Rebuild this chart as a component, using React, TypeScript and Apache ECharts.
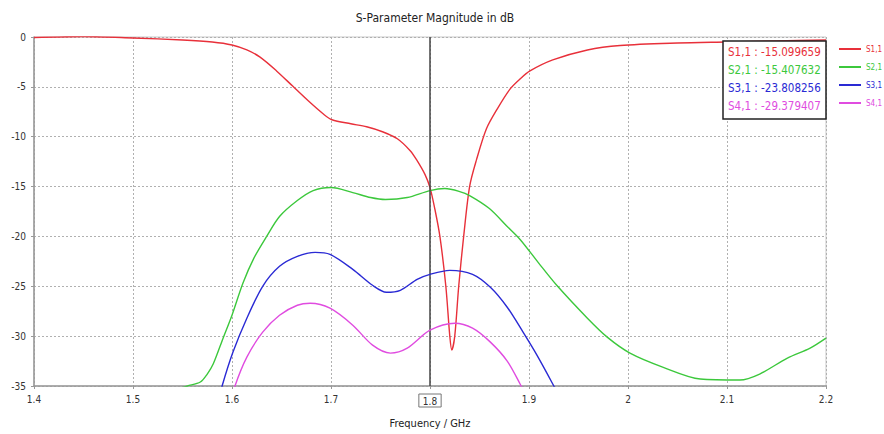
import React, { useEffect, useRef } from "react";
import * as echarts from "echarts";

const TITLE = "S-Parameter Magnitude in dB";
const X_NAME = "Frequency / GHz";
const SERIES_NAMES = ["S1,1", "S2,1", "S3,1", "S4,1"];
const SERIES_COLORS = ["#e8303a", "#3cc83c", "#2a2ad4", "#e04ce0"];
const MARKER_FREQ = 1.8;
const MARKER_VALUES = ["-15.099659", "-15.407632", "-23.808256", "-29.379407"];

const s11Freq = [1.4, 1.45, 1.5, 1.55, 1.58, 1.6, 1.615, 1.628, 1.645, 1.661, 1.677, 1.692, 1.701, 1.72, 1.736, 1.752, 1.767, 1.78, 1.787, 1.795, 1.8, 1.805, 1.81, 1.816, 1.82, 1.822, 1.825, 1.829, 1.834, 1.84, 1.847, 1.857, 1.868, 1.881, 1.891, 1.901, 1.924, 1.959, 1.992, 2.05, 2.1, 2.15, 2.2];
const s11Val = [-0.05, 0.05, -0.1, -0.3, -0.5, -0.8, -1.3, -2.0, -3.4, -4.9, -6.4, -7.7, -8.3, -8.7, -9.0, -9.5, -10.2, -11.4, -12.4, -13.8, -15.1, -17.3, -20, -25, -30, -31.4, -30, -25, -20, -15, -12.3, -9.2, -7.2, -5.2, -4.2, -3.4, -2.3, -1.3, -0.85, -0.6, -0.5, -0.4, -0.3];

const s21Freq = [1.545, 1.555, 1.568, 1.575, 1.581, 1.591, 1.6, 1.611, 1.622, 1.635, 1.648, 1.666, 1.682, 1.7, 1.722, 1.74, 1.755, 1.777, 1.8, 1.815, 1.83, 1.84, 1.86, 1.878, 1.891, 1.91, 1.928, 1.959, 1.979, 2.002, 2.035, 2.073, 2.113, 2.133, 2.161, 2.184, 2.2];
const s21Val = [-35.3, -35, -34.6, -33.8, -32.8, -30.2, -27.9, -24.7, -22.2, -20, -18, -16.4, -15.4, -15.1, -15.6, -16.1, -16.3, -16.1, -15.4, -15.2, -15.5, -15.9, -17.2, -19, -20.3, -22.7, -24.9, -28.2, -30.1, -31.7, -33.1, -34.3, -34.4, -33.8, -32.2, -31.2, -30.2];

const s31Freq = [1.585, 1.59, 1.601, 1.615, 1.631, 1.648, 1.666, 1.684, 1.699, 1.722, 1.742, 1.756, 1.77, 1.787, 1.8, 1.82, 1.843, 1.861, 1.878, 1.894, 1.908, 1.924, 1.93];
const s31Val = [-37, -35, -31.6, -28.2, -25, -23, -22, -21.6, -21.8, -23.3, -24.9, -25.6, -25.4, -24.3, -23.8, -23.4, -23.8, -25.1, -27.1, -29.6, -31.9, -34.8, -36];

const s41Freq = [1.598, 1.603, 1.615, 1.631, 1.648, 1.666, 1.679, 1.699, 1.722, 1.742, 1.76, 1.777, 1.8, 1.825, 1.843, 1.861, 1.878, 1.891, 1.897];
const s41Val = [-37, -35, -32.1, -29.6, -27.9, -26.9, -26.7, -27.2, -28.9, -30.9, -31.7, -31.2, -29.4, -28.7, -29.2, -30.6, -32.5, -34.8, -36];

const FREQS = [s11Freq, s21Freq, s31Freq, s41Freq];
const VALS = [s11Val, s21Val, s31Val, s41Val];

const FONT = "Tahoma, 'DejaVu Sans Condensed', 'Liberation Sans', sans-serif";

export default function App() {
  const ref = useRef<HTMLDivElement>(null);
  useEffect(() => {
    document.body.style.margin = "0";
    document.body.style.overflow = "hidden";
    if (!ref.current) return;
    const chart = echarts.init(ref.current, null, { renderer: "svg" });
    const series: any[] = SERIES_NAMES.map((name, i) => ({
      name,
      type: "line",
      data: FREQS[i].map((f, j) => [f, VALS[i][j]]),
      showSymbol: false,
      smooth: 0.3,
      clip: true,
      lineStyle: { color: SERIES_COLORS[i], width: 1.4 },
      itemStyle: { color: SERIES_COLORS[i] },
      z: 3 + i,
    }));
    series[0].markLine = {
      silent: true,
      symbol: "none",
      label: { show: false },
      lineStyle: { color: "#444", width: 1.5, type: "solid" },
      data: [{ xAxis: MARKER_FREQ }],
    };
    const boxX = 723, boxY = 41, boxW = 103, boxH = 78;
    const option: any = {
      animation: false,
      backgroundColor: "#fff",
      title: {
        text: TITLE,
        left: 430,
        textAlign: "center",
        top: 7,
        textStyle: { fontSize: 12, fontWeight: "normal", color: "#222", fontFamily: FONT },
      },
      grid: {
        left: 34, right: 58, top: 37, bottom: 42,
        show: true, borderColor: "#c8c8c8", borderWidth: 1,
      },
      xAxis: {
        type: "value",
        min: 1.4, max: 2.2, interval: 0.1,
        name: X_NAME,
        nameLocation: "middle",
        nameGap: 32,
        nameTextStyle: { fontSize: 11, color: "#222", fontFamily: FONT },
        axisLine: { show: true, onZero: false, lineStyle: { color: "#999", width: 1.5 } },
        axisTick: { show: true, length: 3, lineStyle: { color: "#999" } },
        axisLabel: {
          fontSize: 10, color: "#333", fontFamily: FONT, margin: 8,
          formatter: (v: number) => {
            const s = String(Math.round(v * 10) / 10);
            return Math.abs(v - MARKER_FREQ) < 1e-6 ? `{box|${s}}` : s;
          },
          rich: {
            box: {
              fontSize: 10, color: "#333", fontFamily: FONT,
              borderColor: "#777", borderWidth: 1, padding: [2, 4, 1, 4],
            },
          },
        },
        splitLine: { show: true, lineStyle: { color: "#b0b0b0", type: [2, 2], width: 1 } },
      },
      yAxis: {
        type: "value",
        min: -35, max: 0, interval: 5,
        axisLine: { show: true, lineStyle: { color: "#999", width: 1.5 } },
        axisTick: { show: true, length: 3, lineStyle: { color: "#999" } },
        axisLabel: { fontSize: 10, color: "#333", fontFamily: FONT, margin: 8 },
        splitLine: { show: true, lineStyle: { color: "#b0b0b0", type: [2, 2], width: 1 } },
      },
      legend: {
        orient: "vertical",
        left: 834,
        top: 40,
        width: 50,
        itemWidth: 22,
        itemHeight: 2,
        itemGap: 10,
        icon: "rect",
        formatter: (n: string) => n,
        data: SERIES_NAMES.map((n, i) => ({
          name: n,
          textStyle: { color: SERIES_COLORS[i], fontSize: 8, fontFamily: FONT, overflow: "none", width: 30 },
        })),
        textStyle: { fontSize: 8, fontFamily: FONT, overflow: "none" },
      },
      graphic: [
        {
          type: "rect",
          z: 100,
          shape: { x: boxX, y: boxY, width: boxW, height: boxH },
          style: { fill: "#fff", stroke: "#222", lineWidth: 1.5 },
        },
        ...SERIES_NAMES.map((n, i) => ({
          type: "text",
          z: 101,
          x: boxX + 5,
          y: boxY + 11 + i * 18,
          style: {
            text: `${n} : ${MARKER_VALUES[i]}`,
            fill: SERIES_COLORS[i],
            font: `11.5px ${FONT}`,
            textVerticalAlign: "middle",
          },
        })),
      ],
      series,
    };
    chart.setOption(option);
    return () => chart.dispose();
  }, []);
  return <div ref={ref} style={{ width: 884, height: 434 }} />;
}
